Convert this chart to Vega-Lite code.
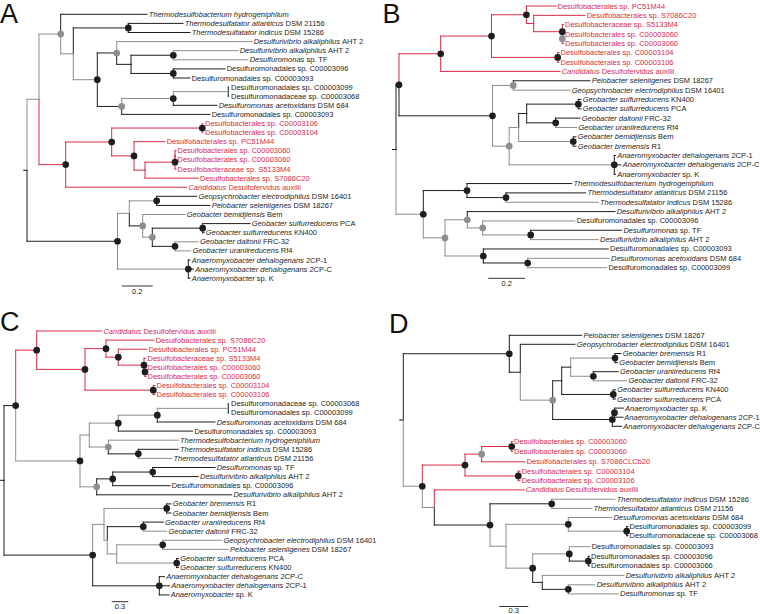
{
"$schema": "https://vega.github.io/schema/vega-lite/v6.json",
"padding": 0,
"spacing": 0,
"bounds": "flush",
"config": {"view": {"stroke": null}, "facet": {"spacing": 0}, "text": {"font": "Liberation Sans"},
  "header": {"title": null, "labels": false, "labelExpr": "''", "labelFontSize": 0, "labelPadding": 0, "titlePadding": 0, "titleFontSize": 0}},
"data": {"values": [
{"k":"br","p":"A","a":24,"b":170.3,"c":27,"d":170.3,"t":"k"},
{"k":"br","p":"A","a":27,"b":170.3,"c":39,"d":99.3,"t":"g"},
{"k":"br","p":"A","a":27,"b":170.3,"c":117.5,"d":241.25,"t":"k"},
{"k":"br","p":"A","a":39,"b":99.3,"c":60.7,"d":34.07,"t":"g"},
{"k":"br","p":"A","a":39,"b":99.3,"c":65.7,"d":164.6,"t":"r"},
{"k":"br","p":"A","a":60.7,"b":34.07,"c":147,"d":14.3,"t":"k"},
{"k":"br","p":"A","a":60.7,"b":34.07,"c":73.3,"d":53.83,"t":"g"},
{"k":"br","p":"A","a":73.3,"b":53.83,"c":128.3,"d":27.95,"t":"k"},
{"k":"br","p":"A","a":73.3,"b":53.83,"c":97.3,"d":79.71,"t":"g"},
{"k":"br","p":"A","a":128.3,"b":27.95,"c":183,"d":23.4,"t":"k"},
{"k":"br","p":"A","a":128.3,"b":27.95,"c":190,"d":32.5,"t":"k"},
{"k":"br","p":"A","a":97.3,"b":79.71,"c":116.7,"d":52.98,"t":"k"},
{"k":"br","p":"A","a":97.3,"b":79.71,"c":121.7,"d":106.44,"t":"k"},
{"k":"br","p":"A","a":116.7,"b":52.98,"c":252,"d":41.6,"t":"g"},
{"k":"br","p":"A","a":116.7,"b":52.98,"c":131,"d":64.35,"t":"k"},
{"k":"br","p":"A","a":131,"b":64.35,"c":173.3,"d":55.25,"t":"k"},
{"k":"br","p":"A","a":131,"b":64.35,"c":173.3,"d":73.45,"t":"k"},
{"k":"br","p":"A","a":173.3,"b":55.25,"c":238,"d":50.7,"t":"g"},
{"k":"br","p":"A","a":173.3,"b":55.25,"c":248,"d":59.8,"t":"g"},
{"k":"br","p":"A","a":173.3,"b":73.45,"c":225,"d":68.9,"t":"k"},
{"k":"br","p":"A","a":173.3,"b":73.45,"c":190,"d":78,"t":"k"},
{"k":"br","p":"A","a":121.7,"b":106.44,"c":173.3,"d":98.48,"t":"g"},
{"k":"br","p":"A","a":121.7,"b":106.44,"c":210,"d":114.4,"t":"k"},
{"k":"br","p":"A","a":173.3,"b":98.48,"c":228.3,"d":91.65,"t":"g"},
{"k":"br","p":"A","a":173.3,"b":98.48,"c":217,"d":105.3,"t":"k"},
{"k":"br","p":"A","a":228.3,"b":91.65,"c":228.3,"d":87.1,"t":"k"},
{"k":"br","p":"A","a":228.3,"b":91.65,"c":228.3,"d":96.2,"t":"k"},
{"k":"br","p":"A","a":65.7,"b":164.6,"c":111.7,"d":141.98,"t":"r"},
{"k":"br","p":"A","a":65.7,"b":164.6,"c":186.7,"d":187.2,"t":"r"},
{"k":"br","p":"A","a":111.7,"b":141.98,"c":202.3,"d":128.05,"t":"r"},
{"k":"br","p":"A","a":111.7,"b":141.98,"c":134,"d":155.9,"t":"r"},
{"k":"br","p":"A","a":202.3,"b":128.05,"c":202.3,"d":123.5,"t":"r"},
{"k":"br","p":"A","a":202.3,"b":128.05,"c":202.3,"d":132.6,"t":"r"},
{"k":"br","p":"A","a":134,"b":155.9,"c":165,"d":141.7,"t":"r"},
{"k":"br","p":"A","a":134,"b":155.9,"c":145,"d":170.15,"t":"r"},
{"k":"br","p":"A","a":145,"b":170.15,"c":175,"d":162.2,"t":"r"},
{"k":"br","p":"A","a":145,"b":170.15,"c":198.3,"d":178.1,"t":"r"},
{"k":"br","p":"A","a":175,"b":162.2,"c":175,"d":155.35,"t":"r"},
{"k":"br","p":"A","a":175,"b":162.2,"c":176,"d":169,"t":"r"},
{"k":"br","p":"A","a":175,"b":155.35,"c":176,"d":150.8,"t":"r"},
{"k":"br","p":"A","a":175,"b":155.35,"c":176,"d":159.9,"t":"r"},
{"k":"br","p":"A","a":117.5,"b":241.25,"c":129.3,"d":213.4,"t":"g"},
{"k":"br","p":"A","a":117.5,"b":241.25,"c":188.3,"d":269.1,"t":"g"},
{"k":"br","p":"A","a":129.3,"b":213.4,"c":156.7,"d":200.85,"t":"g"},
{"k":"br","p":"A","a":129.3,"b":213.4,"c":142.7,"d":225.9,"t":"k"},
{"k":"br","p":"A","a":156.7,"b":200.85,"c":196.7,"d":196.3,"t":"k"},
{"k":"br","p":"A","a":156.7,"b":200.85,"c":210,"d":205.4,"t":"k"},
{"k":"br","p":"A","a":142.7,"b":225.9,"c":185,"d":214.5,"t":"g"},
{"k":"br","p":"A","a":142.7,"b":225.9,"c":152.3,"d":237.25,"t":"g"},
{"k":"br","p":"A","a":152.3,"b":237.25,"c":202.7,"d":228.15,"t":"k"},
{"k":"br","p":"A","a":152.3,"b":237.25,"c":175,"d":246.35,"t":"k"},
{"k":"br","p":"A","a":202.7,"b":228.15,"c":250,"d":223.6,"t":"k"},
{"k":"br","p":"A","a":202.7,"b":228.15,"c":204,"d":232.7,"t":"k"},
{"k":"br","p":"A","a":175,"b":246.35,"c":198.3,"d":241.8,"t":"g"},
{"k":"br","p":"A","a":175,"b":246.35,"c":190.7,"d":250.9,"t":"g"},
{"k":"br","p":"A","a":188.3,"b":269.1,"c":190,"d":260,"t":"k"},
{"k":"br","p":"A","a":188.3,"b":269.1,"c":193.5,"d":269.1,"t":"k"},
{"k":"br","p":"A","a":188.3,"b":269.1,"c":190,"d":278.2,"t":"k"},
{"k":"node","p":"A","x":60.7,"y":34.07,"t":"g"},
{"k":"node","p":"A","x":128.3,"y":27.95,"t":"k"},
{"k":"node","p":"A","x":97.3,"y":79.71,"t":"k"},
{"k":"node","p":"A","x":116.7,"y":52.98,"t":"g"},
{"k":"node","p":"A","x":173.3,"y":55.25,"t":"k"},
{"k":"node","p":"A","x":173.3,"y":73.45,"t":"k"},
{"k":"node","p":"A","x":121.7,"y":106.44,"t":"g"},
{"k":"node","p":"A","x":173.3,"y":98.48,"t":"k"},
{"k":"node","p":"A","x":65.7,"y":164.6,"t":"k"},
{"k":"node","p":"A","x":111.7,"y":141.98,"t":"k"},
{"k":"node","p":"A","x":202.3,"y":128.05,"t":"k"},
{"k":"node","p":"A","x":134,"y":155.9,"t":"k"},
{"k":"node","p":"A","x":175,"y":162.2,"t":"k"},
{"k":"node","p":"A","x":117.5,"y":241.25,"t":"k"},
{"k":"node","p":"A","x":156.7,"y":200.85,"t":"k"},
{"k":"node","p":"A","x":142.7,"y":225.9,"t":"g"},
{"k":"node","p":"A","x":152.3,"y":237.25,"t":"g"},
{"k":"node","p":"A","x":202.7,"y":228.15,"t":"k"},
{"k":"node","p":"A","x":175,"y":246.35,"t":"k"},
{"k":"node","p":"A","x":188.3,"y":269.1,"t":"k"},
{"k":"lab","p":"A","x":148.7,"y":14.3,"it":"Thermodesulfobacterium hydrogeniphilum","ro":"","rx":148.7,"t":"k"},
{"k":"lab","p":"A","x":184.7,"y":23.4,"it":"Thermodesulfatator atlanticus","ro":"DSM 21156","rx":285.6,"t":"k"},
{"k":"lab","p":"A","x":191.7,"y":32.5,"it":"Thermodesulfatator indicus","ro":"DSM 15286","rx":284.2,"t":"k"},
{"k":"lab","p":"A","x":253.7,"y":41.6,"it":"Desulfurivibrio alkaliphilus","ro":"AHT 2","rx":342.05,"t":"k"},
{"k":"lab","p":"A","x":239.7,"y":50.7,"it":"Desulfurivibrio alkaliphilus","ro":"AHT 2","rx":328.05,"t":"k"},
{"k":"lab","p":"A","x":249.7,"y":59.8,"it":"Desulfuromonas","ro":"sp. TF","rx":306.4,"t":"k"},
{"k":"lab","p":"A","x":226.7,"y":68.9,"it":"","ro":"Desulfuromonadales sp. C00003096","rx":226.7,"t":"k"},
{"k":"lab","p":"A","x":191.7,"y":78,"it":"","ro":"Desulfuromonadales sp. C00003093","rx":191.7,"t":"k"},
{"k":"lab","p":"A","x":231,"y":87.1,"it":"","ro":"Desulfuromonadales sp. C00003099","rx":231,"t":"k"},
{"k":"lab","p":"A","x":231,"y":96.2,"it":"","ro":"Desulfuromonadaceae sp. C00003068","rx":231,"t":"k"},
{"k":"lab","p":"A","x":218.7,"y":105.3,"it":"Desulfuromonas acetoxidans","ro":"DSM 684","rx":317.5,"t":"k"},
{"k":"lab","p":"A","x":211.7,"y":114.4,"it":"","ro":"Desulfuromonadales sp. C00003093","rx":211.7,"t":"k"},
{"k":"lab","p":"A","x":205,"y":123.5,"it":"","ro":"Desulfobacterales sp. C00003106","rx":205,"t":"r"},
{"k":"lab","p":"A","x":205,"y":132.6,"it":"","ro":"Desulfobacterales sp. C00003104","rx":205,"t":"r"},
{"k":"lab","p":"A","x":166.7,"y":141.7,"it":"","ro":"Desulfobacterales sp. PC51M44","rx":166.7,"t":"r"},
{"k":"lab","p":"A","x":177.5,"y":150.8,"it":"","ro":"Desulfobacterales sp. C00003060","rx":177.5,"t":"r"},
{"k":"lab","p":"A","x":177.5,"y":159.9,"it":"","ro":"Desulfobacterales sp. C00003060","rx":177.5,"t":"r"},
{"k":"lab","p":"A","x":177.5,"y":169,"it":"","ro":"Desulfobacteraceae sp. S5133M4","rx":177.5,"t":"r"},
{"k":"lab","p":"A","x":200,"y":178.1,"it":"","ro":"Desulfobacterales sp. S7086C20","rx":200,"t":"r"},
{"k":"lab","p":"A","x":188.4,"y":187.2,"it":"Candidatus","ro":"Desulfofervidus auxilii","rx":228.4,"t":"r"},
{"k":"lab","p":"A","x":198.4,"y":196.3,"it":"Geopsychrobacter electrodiphilus","ro":"DSM 16401","rx":311.8,"t":"k"},
{"k":"lab","p":"A","x":211.7,"y":205.4,"it":"Pelobacter seleniigenes","ro":"DSM 18267","rx":293.4,"t":"k"},
{"k":"lab","p":"A","x":186.7,"y":214.5,"it":"Geobacter bemidjiensis","ro":"Bem","rx":267.1,"t":"k"},
{"k":"lab","p":"A","x":251.7,"y":223.6,"it":"Geobacter sulfurreducens","ro":"PCA","rx":340.1,"t":"k"},
{"k":"lab","p":"A","x":205.7,"y":232.7,"it":"Geobacter sulfurreducens","ro":"KN400","rx":294.1,"t":"k"},
{"k":"lab","p":"A","x":200,"y":241.8,"it":"Geobacter daltonii","ro":"FRC-32","rx":262.9,"t":"k"},
{"k":"lab","p":"A","x":192.4,"y":250.9,"it":"Geobacter uraniireducens","ro":"Rf4","rx":280.8,"t":"k"},
{"k":"lab","p":"A","x":191.7,"y":260,"it":"Anaeromyxobacter dehalogenans","ro":"2CP-1","rx":305.9,"t":"k"},
{"k":"lab","p":"A","x":195.2,"y":269.1,"it":"Anaeromyxobacter dehalogenans","ro":"2CP-C","rx":309.4,"t":"k"},
{"k":"lab","p":"A","x":191.7,"y":278.2,"it":"Anaeromyxobacter","ro":"sp. K","rx":256.7,"t":"k"},
{"k":"bar","p":"A","a":121.7,"c":152.7,"b":286,"m":137.2,"ly":291.5,"s":"0.2"},
{"k":"let","p":"A","x":0,"y":22.5,"s":"A"},

{"k":"br","p":"B","a":12.5,"b":149.5,"c":16,"d":149.5,"t":"k"},
{"k":"br","p":"B","a":16,"b":149.5,"c":19,"d":84.78,"t":"k"},
{"k":"br","p":"B","a":16,"b":149.5,"c":43.3,"d":214.23,"t":"g"},
{"k":"br","p":"B","a":19,"b":84.78,"c":60.7,"d":53.75,"t":"r"},
{"k":"br","p":"B","a":19,"b":84.78,"c":112.5,"d":115.81,"t":"k"},
{"k":"br","p":"B","a":60.7,"b":53.75,"c":111.5,"d":36.08,"t":"r"},
{"k":"br","p":"B","a":60.7,"b":53.75,"c":180,"d":71.42,"t":"r"},
{"k":"br","p":"B","a":111.5,"b":36.08,"c":146.4,"d":14.77,"t":"r"},
{"k":"br","p":"B","a":111.5,"b":36.08,"c":177.7,"d":57.4,"t":"r"},
{"k":"br","p":"B","a":146.4,"b":14.77,"c":176,"d":6,"t":"r"},
{"k":"br","p":"B","a":146.4,"b":14.77,"c":153.7,"d":23.53,"t":"r"},
{"k":"br","p":"B","a":153.7,"b":23.53,"c":205,"d":15.35,"t":"r"},
{"k":"br","p":"B","a":153.7,"b":23.53,"c":182.3,"d":31.7,"t":"r"},
{"k":"br","p":"B","a":182.3,"b":31.7,"c":183.5,"d":24.69,"t":"r"},
{"k":"br","p":"B","a":182.3,"b":31.7,"c":182.3,"d":38.71,"t":"r"},
{"k":"br","p":"B","a":182.3,"b":38.71,"c":183.5,"d":34.04,"t":"r"},
{"k":"br","p":"B","a":182.3,"b":38.71,"c":183.5,"d":43.38,"t":"r"},
{"k":"br","p":"B","a":177.7,"b":57.4,"c":179,"d":52.73,"t":"r"},
{"k":"br","p":"B","a":177.7,"b":57.4,"c":179,"d":62.07,"t":"r"},
{"k":"br","p":"B","a":112.5,"b":115.81,"c":133.3,"d":85.44,"t":"g"},
{"k":"br","p":"B","a":112.5,"b":115.81,"c":129.2,"d":146.18,"t":"g"},
{"k":"br","p":"B","a":133.3,"b":85.44,"c":210,"d":80.76,"t":"k"},
{"k":"br","p":"B","a":133.3,"b":85.44,"c":190,"d":90.11,"t":"g"},
{"k":"br","p":"B","a":129.2,"b":146.18,"c":138.7,"d":127.49,"t":"g"},
{"k":"br","p":"B","a":129.2,"b":146.18,"c":234.3,"d":164.87,"t":"g"},
{"k":"br","p":"B","a":138.7,"b":127.49,"c":146.7,"d":113.47,"t":"k"},
{"k":"br","p":"B","a":138.7,"b":127.49,"c":193.3,"d":141.5,"t":"g"},
{"k":"br","p":"B","a":146.7,"b":113.47,"c":198.3,"d":104.13,"t":"k"},
{"k":"br","p":"B","a":146.7,"b":113.47,"c":175.7,"d":122.82,"t":"k"},
{"k":"br","p":"B","a":198.3,"b":104.13,"c":201,"d":99.45,"t":"k"},
{"k":"br","p":"B","a":198.3,"b":104.13,"c":201,"d":108.8,"t":"k"},
{"k":"br","p":"B","a":175.7,"b":122.82,"c":200,"d":118.14,"t":"k"},
{"k":"br","p":"B","a":175.7,"b":122.82,"c":196.7,"d":127.49,"t":"g"},
{"k":"br","p":"B","a":193.3,"b":141.5,"c":196,"d":136.83,"t":"k"},
{"k":"br","p":"B","a":193.3,"b":141.5,"c":196,"d":146.18,"t":"k"},
{"k":"br","p":"B","a":234.3,"b":164.87,"c":235.5,"d":155.52,"t":"k"},
{"k":"br","p":"B","a":234.3,"b":164.87,"c":241,"d":164.87,"t":"k"},
{"k":"br","p":"B","a":234.3,"b":164.87,"c":235.5,"d":174.21,"t":"k"},
{"k":"br","p":"B","a":43.3,"b":214.23,"c":87,"d":190.57,"t":"k"},
{"k":"br","p":"B","a":43.3,"b":214.23,"c":65,"d":237.88,"t":"g"},
{"k":"br","p":"B","a":87,"b":190.57,"c":191.7,"d":183.56,"t":"k"},
{"k":"br","p":"B","a":87,"b":190.57,"c":126,"d":197.58,"t":"k"},
{"k":"br","p":"B","a":126,"b":197.58,"c":205.7,"d":192.9,"t":"k"},
{"k":"br","p":"B","a":126,"b":197.58,"c":218.3,"d":202.25,"t":"g"},
{"k":"br","p":"B","a":65,"b":237.88,"c":87.3,"d":219.77,"t":"g"},
{"k":"br","p":"B","a":65,"b":237.88,"c":103.3,"d":255.98,"t":"g"},
{"k":"br","p":"B","a":87.3,"b":219.77,"c":235,"d":211.59,"t":"k"},
{"k":"br","p":"B","a":87.3,"b":219.77,"c":102.7,"d":227.95,"t":"g"},
{"k":"br","p":"B","a":102.7,"b":227.95,"c":195,"d":220.94,"t":"g"},
{"k":"br","p":"B","a":102.7,"b":227.95,"c":150.7,"d":234.96,"t":"g"},
{"k":"br","p":"B","a":150.7,"b":234.96,"c":241.7,"d":230.28,"t":"k"},
{"k":"br","p":"B","a":150.7,"b":234.96,"c":218.3,"d":239.63,"t":"g"},
{"k":"br","p":"B","a":103.3,"b":255.98,"c":228.3,"d":248.97,"t":"k"},
{"k":"br","p":"B","a":103.3,"b":255.98,"c":147.7,"d":262.99,"t":"k"},
{"k":"br","p":"B","a":147.7,"b":262.99,"c":229.3,"d":258.32,"t":"g"},
{"k":"br","p":"B","a":147.7,"b":262.99,"c":226.7,"d":267.66,"t":"g"},
{"k":"node","p":"B","x":19,"y":84.78,"t":"k"},
{"k":"node","p":"B","x":60.7,"y":53.75,"t":"k"},
{"k":"node","p":"B","x":111.5,"y":36.08,"t":"k"},
{"k":"node","p":"B","x":146.4,"y":14.77,"t":"k"},
{"k":"node","p":"B","x":182.3,"y":31.7,"t":"k"},
{"k":"node","p":"B","x":182.3,"y":38.71,"t":"g"},
{"k":"node","p":"B","x":177.7,"y":57.4,"t":"k"},
{"k":"node","p":"B","x":112.5,"y":115.81,"t":"k"},
{"k":"node","p":"B","x":133.3,"y":85.44,"t":"g"},
{"k":"node","p":"B","x":129.2,"y":146.18,"t":"g"},
{"k":"node","p":"B","x":198.3,"y":104.13,"t":"k"},
{"k":"node","p":"B","x":175.7,"y":122.82,"t":"k"},
{"k":"node","p":"B","x":193.3,"y":141.5,"t":"k"},
{"k":"node","p":"B","x":234.3,"y":164.87,"t":"k"},
{"k":"node","p":"B","x":43.3,"y":214.23,"t":"k"},
{"k":"node","p":"B","x":87,"y":190.57,"t":"k"},
{"k":"node","p":"B","x":126,"y":197.58,"t":"k"},
{"k":"node","p":"B","x":65,"y":237.88,"t":"g"},
{"k":"node","p":"B","x":87.3,"y":219.77,"t":"g"},
{"k":"node","p":"B","x":102.7,"y":227.95,"t":"g"},
{"k":"node","p":"B","x":150.7,"y":234.96,"t":"k"},
{"k":"node","p":"B","x":103.3,"y":255.98,"t":"k"},
{"k":"node","p":"B","x":147.7,"y":262.99,"t":"k"},
{"k":"lab","p":"B","x":177.5,"y":6,"it":"","ro":"Desulfobacterales sp. PC51M44","rx":177.5,"t":"r"},
{"k":"lab","p":"B","x":206.7,"y":15.35,"it":"","ro":"Desulfobacterales sp. S7086C20","rx":206.7,"t":"r"},
{"k":"lab","p":"B","x":185,"y":24.69,"it":"","ro":"Desulfobacteraceae sp. S5133M4","rx":185,"t":"r"},
{"k":"lab","p":"B","x":185,"y":34.04,"it":"","ro":"Desulfobacterales sp. C00003060","rx":185,"t":"r"},
{"k":"lab","p":"B","x":185,"y":43.38,"it":"","ro":"Desulfobacterales sp. C00003060","rx":185,"t":"r"},
{"k":"lab","p":"B","x":180.5,"y":52.73,"it":"","ro":"Desulfobacterales sp. C00003104","rx":180.5,"t":"r"},
{"k":"lab","p":"B","x":180.5,"y":62.07,"it":"","ro":"Desulfobacterales sp. C00003106","rx":180.5,"t":"r"},
{"k":"lab","p":"B","x":181.7,"y":71.42,"it":"Candidatus","ro":"Desulfofervidus auxilii","rx":221.7,"t":"r"},
{"k":"lab","p":"B","x":211.7,"y":80.76,"it":"Pelobacter seleniigenes","ro":"DSM 18267","rx":293.4,"t":"k"},
{"k":"lab","p":"B","x":191.7,"y":90.11,"it":"Geopsychrobacter electrodiphilus","ro":"DSM 16401","rx":305.1,"t":"k"},
{"k":"lab","p":"B","x":202.7,"y":99.45,"it":"Geobacter sulfurreducens","ro":"KN400","rx":291.1,"t":"k"},
{"k":"lab","p":"B","x":202.7,"y":108.8,"it":"Geobacter sulfurreducens","ro":"PCA","rx":291.1,"t":"k"},
{"k":"lab","p":"B","x":201.7,"y":118.14,"it":"Geobacter daltonii","ro":"FRC-32","rx":264.6,"t":"k"},
{"k":"lab","p":"B","x":198.4,"y":127.49,"it":"Geobacter uraniireducens","ro":"Rf4","rx":286.8,"t":"k"},
{"k":"lab","p":"B","x":197.7,"y":136.83,"it":"Geobacter bemidjiensis","ro":"Bem","rx":278.1,"t":"k"},
{"k":"lab","p":"B","x":197.7,"y":146.18,"it":"Geobacter bremensis","ro":"R1","rx":271.5,"t":"k"},
{"k":"lab","p":"B","x":237.2,"y":155.52,"it":"Anaeromyxobacter dehalogenans","ro":"2CP-1","rx":351.4,"t":"k"},
{"k":"lab","p":"B","x":242.7,"y":164.87,"it":"Anaeromyxobacter dehalogenans","ro":"2CP-C","rx":356.9,"t":"k"},
{"k":"lab","p":"B","x":237.2,"y":174.21,"it":"Anaeromyxobacter","ro":"sp. K","rx":302.2,"t":"k"},
{"k":"lab","p":"B","x":193.4,"y":183.56,"it":"Thermodesulfobacterium hydrogeniphilum","ro":"","rx":193.4,"t":"k"},
{"k":"lab","p":"B","x":207.4,"y":192.9,"it":"Thermodesulfatator atlanticus","ro":"DSM 21156","rx":308.3,"t":"k"},
{"k":"lab","p":"B","x":220,"y":202.25,"it":"Thermodesulfatator indicus","ro":"DSM 15286","rx":312.5,"t":"k"},
{"k":"lab","p":"B","x":236.7,"y":211.59,"it":"Desulfurivibrio alkaliphilus","ro":"AHT 2","rx":325.05,"t":"k"},
{"k":"lab","p":"B","x":196.7,"y":220.94,"it":"","ro":"Desulfuromonadales sp. C00003096","rx":196.7,"t":"k"},
{"k":"lab","p":"B","x":243.4,"y":230.28,"it":"Desulfuromonas","ro":"sp. TF","rx":300.1,"t":"k"},
{"k":"lab","p":"B","x":220,"y":239.63,"it":"Desulfurivibrio alkaliphilus","ro":"AHT 2","rx":308.35,"t":"k"},
{"k":"lab","p":"B","x":230,"y":248.97,"it":"","ro":"Desulfuromonadales sp. C00003093","rx":230,"t":"k"},
{"k":"lab","p":"B","x":231,"y":258.32,"it":"Desulfuromonas acetoxidans","ro":"DSM 684","rx":329.8,"t":"k"},
{"k":"lab","p":"B","x":228.4,"y":267.66,"it":"","ro":"Desulfuromonadales sp. C00003099","rx":228.4,"t":"k"},
{"k":"bar","p":"B","a":108.3,"c":145,"b":278.3,"m":126.7,"ly":283.8,"s":"0.2"},
{"k":"let","p":"B","x":2.5,"y":22.5,"s":"B"},

{"k":"br","p":"C","a":1,"b":173.34,"c":4,"d":173.34,"t":"k"},
{"k":"br","p":"C","a":4,"b":173.34,"c":15.7,"d":98.58,"t":"k"},
{"k":"br","p":"C","a":4,"b":173.34,"c":92.7,"d":248.09,"t":"k"},
{"k":"br","p":"C","a":15.7,"b":98.58,"c":36.7,"d":43.2,"t":"r"},
{"k":"br","p":"C","a":15.7,"b":98.58,"c":80,"d":153.96,"t":"g"},
{"k":"br","p":"C","a":36.7,"b":43.2,"c":101.7,"d":24,"t":"r"},
{"k":"br","p":"C","a":36.7,"b":43.2,"c":85,"d":62.39,"t":"r"},
{"k":"br","p":"C","a":85,"b":62.39,"c":106,"d":41.63,"t":"r"},
{"k":"br","p":"C","a":85,"b":62.39,"c":153.3,"d":83.15,"t":"r"},
{"k":"br","p":"C","a":106,"b":41.63,"c":154,"d":33.1,"t":"r"},
{"k":"br","p":"C","a":106,"b":41.63,"c":118.3,"d":50.16,"t":"r"},
{"k":"br","p":"C","a":118.3,"b":50.16,"c":146.7,"d":42.2,"t":"r"},
{"k":"br","p":"C","a":118.3,"b":50.16,"c":144,"d":58.13,"t":"r"},
{"k":"br","p":"C","a":144,"b":58.13,"c":145.5,"d":51.3,"t":"r"},
{"k":"br","p":"C","a":144,"b":58.13,"c":145,"d":64.95,"t":"r"},
{"k":"br","p":"C","a":145,"b":64.95,"c":146,"d":60.4,"t":"r"},
{"k":"br","p":"C","a":145,"b":64.95,"c":146,"d":69.5,"t":"r"},
{"k":"br","p":"C","a":153.3,"b":83.15,"c":155,"d":78.6,"t":"r"},
{"k":"br","p":"C","a":153.3,"b":83.15,"c":155,"d":87.7,"t":"r"},
{"k":"br","p":"C","a":80,"b":153.96,"c":89.3,"d":128.08,"t":"g"},
{"k":"br","p":"C","a":80,"b":153.96,"c":96.7,"d":179.84,"t":"g"},
{"k":"br","p":"C","a":89.3,"b":128.08,"c":118.3,"d":116.14,"t":"g"},
{"k":"br","p":"C","a":89.3,"b":128.08,"c":108.3,"d":140.03,"t":"g"},
{"k":"br","p":"C","a":118.3,"b":116.14,"c":157.3,"d":108.18,"t":"g"},
{"k":"br","p":"C","a":118.3,"b":116.14,"c":192.7,"d":124.1,"t":"k"},
{"k":"br","p":"C","a":157.3,"b":108.18,"c":228.3,"d":101.35,"t":"g"},
{"k":"br","p":"C","a":157.3,"b":108.18,"c":215,"d":115,"t":"k"},
{"k":"br","p":"C","a":228.3,"b":101.35,"c":228.3,"d":96.8,"t":"k"},
{"k":"br","p":"C","a":228.3,"b":101.35,"c":228.3,"d":105.9,"t":"k"},
{"k":"br","p":"C","a":108.3,"b":140.03,"c":178.3,"d":133.2,"t":"g"},
{"k":"br","p":"C","a":108.3,"b":140.03,"c":138.3,"d":146.85,"t":"k"},
{"k":"br","p":"C","a":138.3,"b":146.85,"c":178.3,"d":142.3,"t":"k"},
{"k":"br","p":"C","a":138.3,"b":146.85,"c":171.7,"d":151.4,"t":"g"},
{"k":"br","p":"C","a":96.7,"b":179.84,"c":112.7,"d":171.88,"t":"k"},
{"k":"br","p":"C","a":96.7,"b":179.84,"c":231.7,"d":187.8,"t":"k"},
{"k":"br","p":"C","a":112.7,"b":171.88,"c":152.7,"d":165.05,"t":"k"},
{"k":"br","p":"C","a":112.7,"b":171.88,"c":170,"d":178.7,"t":"k"},
{"k":"br","p":"C","a":152.7,"b":165.05,"c":215,"d":160.5,"t":"k"},
{"k":"br","p":"C","a":152.7,"b":165.05,"c":198.3,"d":169.6,"t":"k"},
{"k":"br","p":"C","a":92.7,"b":248.09,"c":104,"d":217.38,"t":"g"},
{"k":"br","p":"C","a":92.7,"b":248.09,"c":159.3,"d":278.8,"t":"k"},
{"k":"br","p":"C","a":104,"b":217.38,"c":166.7,"d":201.45,"t":"g"},
{"k":"br","p":"C","a":104,"b":217.38,"c":107.3,"d":233.3,"t":"g"},
{"k":"br","p":"C","a":166.7,"b":201.45,"c":171,"d":196.9,"t":"k"},
{"k":"br","p":"C","a":166.7,"b":201.45,"c":171,"d":206,"t":"k"},
{"k":"br","p":"C","a":107.3,"b":233.3,"c":143.3,"d":219.65,"t":"k"},
{"k":"br","p":"C","a":107.3,"b":233.3,"c":116.7,"d":246.95,"t":"g"},
{"k":"br","p":"C","a":143.3,"b":219.65,"c":163.3,"d":215.1,"t":"k"},
{"k":"br","p":"C","a":143.3,"b":219.65,"c":166.7,"d":224.2,"t":"g"},
{"k":"br","p":"C","a":116.7,"b":246.95,"c":162.7,"d":237.85,"t":"g"},
{"k":"br","p":"C","a":116.7,"b":246.95,"c":176.7,"d":256.05,"t":"g"},
{"k":"br","p":"C","a":162.7,"b":237.85,"c":221.7,"d":233.3,"t":"g"},
{"k":"br","p":"C","a":162.7,"b":237.85,"c":228.3,"d":242.4,"t":"g"},
{"k":"br","p":"C","a":176.7,"b":256.05,"c":178.5,"d":251.5,"t":"k"},
{"k":"br","p":"C","a":176.7,"b":256.05,"c":178.5,"d":260.6,"t":"k"},
{"k":"br","p":"C","a":159.3,"b":278.8,"c":164.5,"d":269.7,"t":"k"},
{"k":"br","p":"C","a":159.3,"b":278.8,"c":169.5,"d":278.8,"t":"k"},
{"k":"br","p":"C","a":159.3,"b":278.8,"c":169,"d":287.9,"t":"k"},
{"k":"node","p":"C","x":15.7,"y":98.58,"t":"k"},
{"k":"node","p":"C","x":36.7,"y":43.2,"t":"k"},
{"k":"node","p":"C","x":85,"y":62.39,"t":"k"},
{"k":"node","p":"C","x":106,"y":41.63,"t":"k"},
{"k":"node","p":"C","x":118.3,"y":50.16,"t":"k"},
{"k":"node","p":"C","x":144,"y":58.13,"t":"k"},
{"k":"node","p":"C","x":145,"y":64.95,"t":"k"},
{"k":"node","p":"C","x":153.3,"y":83.15,"t":"k"},
{"k":"node","p":"C","x":80,"y":153.96,"t":"k"},
{"k":"node","p":"C","x":118.3,"y":116.14,"t":"k"},
{"k":"node","p":"C","x":157.3,"y":108.18,"t":"k"},
{"k":"node","p":"C","x":108.3,"y":140.03,"t":"g"},
{"k":"node","p":"C","x":138.3,"y":146.85,"t":"k"},
{"k":"node","p":"C","x":96.7,"y":179.84,"t":"g"},
{"k":"node","p":"C","x":112.7,"y":171.88,"t":"k"},
{"k":"node","p":"C","x":152.7,"y":165.05,"t":"k"},
{"k":"node","p":"C","x":92.7,"y":248.09,"t":"k"},
{"k":"node","p":"C","x":166.7,"y":201.45,"t":"k"},
{"k":"node","p":"C","x":143.3,"y":219.65,"t":"k"},
{"k":"node","p":"C","x":162.7,"y":237.85,"t":"k"},
{"k":"node","p":"C","x":176.7,"y":256.05,"t":"k"},
{"k":"node","p":"C","x":159.3,"y":278.8,"t":"k"},
{"k":"lab","p":"C","x":103.4,"y":24,"it":"Candidatus","ro":"Desulfofervidus auxilii","rx":143.4,"t":"r"},
{"k":"lab","p":"C","x":155.7,"y":33.1,"it":"","ro":"Desulfobacterales sp. S7086C20","rx":155.7,"t":"r"},
{"k":"lab","p":"C","x":148.4,"y":42.2,"it":"","ro":"Desulfobacterales sp. PC51M44","rx":148.4,"t":"r"},
{"k":"lab","p":"C","x":147.5,"y":51.3,"it":"","ro":"Desulfobacteraceae sp. S5133M4","rx":147.5,"t":"r"},
{"k":"lab","p":"C","x":147.5,"y":60.4,"it":"","ro":"Desulfobacterales sp. C00003060","rx":147.5,"t":"r"},
{"k":"lab","p":"C","x":147.5,"y":69.5,"it":"","ro":"Desulfobacterales sp. C00003060","rx":147.5,"t":"r"},
{"k":"lab","p":"C","x":156.5,"y":78.6,"it":"","ro":"Desulfobacterales sp. C00003104","rx":156.5,"t":"r"},
{"k":"lab","p":"C","x":156.5,"y":87.7,"it":"","ro":"Desulfobacterales sp. C00003106","rx":156.5,"t":"r"},
{"k":"lab","p":"C","x":231,"y":96.8,"it":"","ro":"Desulfuromonadaceae sp. C00003068","rx":231,"t":"k"},
{"k":"lab","p":"C","x":231,"y":105.9,"it":"","ro":"Desulfuromonadales sp. C00003099","rx":231,"t":"k"},
{"k":"lab","p":"C","x":216.7,"y":115,"it":"Desulfuromonas acetoxidans","ro":"DSM 684","rx":315.5,"t":"k"},
{"k":"lab","p":"C","x":194.4,"y":124.1,"it":"","ro":"Desulfuromonadales sp. C00003093","rx":194.4,"t":"k"},
{"k":"lab","p":"C","x":180,"y":133.2,"it":"Thermodesulfobacterium hydrogeniphilum","ro":"","rx":180,"t":"k"},
{"k":"lab","p":"C","x":180,"y":142.3,"it":"Thermodesulfatator indicus","ro":"DSM 15286","rx":272.5,"t":"k"},
{"k":"lab","p":"C","x":173.4,"y":151.4,"it":"Thermodesulfatator atlanticus","ro":"DSM 21156","rx":274.3,"t":"k"},
{"k":"lab","p":"C","x":216.7,"y":160.5,"it":"Desulfuromonas","ro":"sp. TF","rx":273.4,"t":"k"},
{"k":"lab","p":"C","x":200,"y":169.6,"it":"Desulfurivibrio alkaliphilus","ro":"AHT 2","rx":288.35,"t":"k"},
{"k":"lab","p":"C","x":171.7,"y":178.7,"it":"","ro":"Desulfuromonadales sp. C00003096","rx":171.7,"t":"k"},
{"k":"lab","p":"C","x":233.4,"y":187.8,"it":"Desulfurivibrio alkaliphilus","ro":"AHT 2","rx":321.75,"t":"k"},
{"k":"lab","p":"C","x":172.7,"y":196.9,"it":"Geobacter bremensis","ro":"R1","rx":246.5,"t":"k"},
{"k":"lab","p":"C","x":172.7,"y":206,"it":"Geobacter bemidjiensis","ro":"Bem","rx":253.1,"t":"k"},
{"k":"lab","p":"C","x":165,"y":215.1,"it":"Geobacter uraniireducens","ro":"Rf4","rx":253.4,"t":"k"},
{"k":"lab","p":"C","x":168.4,"y":224.2,"it":"Geobacter daltonii","ro":"FRC-32","rx":231.3,"t":"k"},
{"k":"lab","p":"C","x":223.4,"y":233.3,"it":"Geopsychrobacter electrodiphilus","ro":"DSM 16401","rx":336.8,"t":"k"},
{"k":"lab","p":"C","x":230,"y":242.4,"it":"Pelobacter seleniigenes","ro":"DSM 18267","rx":311.7,"t":"k"},
{"k":"lab","p":"C","x":180.2,"y":251.5,"it":"Geobacter sulfurreducens","ro":"PCA","rx":268.6,"t":"k"},
{"k":"lab","p":"C","x":180.2,"y":260.6,"it":"Geobacter sulfurreducens","ro":"KN400","rx":268.6,"t":"k"},
{"k":"lab","p":"C","x":166.2,"y":269.7,"it":"Anaeromyxobacter dehalogenans","ro":"2CP-C","rx":280.4,"t":"k"},
{"k":"lab","p":"C","x":171.2,"y":278.8,"it":"Anaeromyxobacter dehalogenans","ro":"2CP-1","rx":285.4,"t":"k"},
{"k":"lab","p":"C","x":170.7,"y":287.9,"it":"Anaeromyxobacter","ro":"sp. K","rx":235.7,"t":"k"},
{"k":"bar","p":"C","a":111.7,"c":128.3,"b":294.7,"m":120,"ly":300.2,"s":"0.3"},
{"k":"let","p":"C","x":0,"y":24,"s":"C"},

{"k":"br","p":"D","a":20,"b":113.01,"c":23.3,"d":113.01,"t":"k"},
{"k":"br","p":"D","a":23.3,"b":113.01,"c":129.3,"d":46.76,"t":"k"},
{"k":"br","p":"D","a":23.3,"b":113.01,"c":42.3,"d":179.26,"t":"g"},
{"k":"br","p":"D","a":129.3,"b":46.76,"c":201.7,"d":28.3,"t":"k"},
{"k":"br","p":"D","a":129.3,"b":46.76,"c":140.3,"d":65.22,"t":"k"},
{"k":"br","p":"D","a":140.3,"b":65.22,"c":195,"d":37.3,"t":"k"},
{"k":"br","p":"D","a":140.3,"b":65.22,"c":172.7,"d":93.14,"t":"g"},
{"k":"br","p":"D","a":172.7,"b":93.14,"c":181.7,"d":73.8,"t":"k"},
{"k":"br","p":"D","a":172.7,"b":93.14,"c":232.3,"d":112.48,"t":"k"},
{"k":"br","p":"D","a":181.7,"b":73.8,"c":190.7,"d":60.15,"t":"k"},
{"k":"br","p":"D","a":181.7,"b":73.8,"c":233.3,"d":87.45,"t":"k"},
{"k":"br","p":"D","a":190.7,"b":60.15,"c":235,"d":51.05,"t":"g"},
{"k":"br","p":"D","a":190.7,"b":60.15,"c":213.3,"d":69.25,"t":"g"},
{"k":"br","p":"D","a":235,"b":51.05,"c":241,"d":46.5,"t":"k"},
{"k":"br","p":"D","a":235,"b":51.05,"c":237.5,"d":55.6,"t":"k"},
{"k":"br","p":"D","a":213.3,"b":69.25,"c":238.3,"d":64.7,"t":"k"},
{"k":"br","p":"D","a":213.3,"b":69.25,"c":246.7,"d":73.8,"t":"g"},
{"k":"br","p":"D","a":233.3,"b":87.45,"c":235.5,"d":82.9,"t":"k"},
{"k":"br","p":"D","a":233.3,"b":87.45,"c":235.5,"d":92,"t":"k"},
{"k":"br","p":"D","a":232.3,"b":112.48,"c":234.5,"d":105.65,"t":"k"},
{"k":"br","p":"D","a":232.3,"b":112.48,"c":241.7,"d":119.3,"t":"k"},
{"k":"br","p":"D","a":234.5,"b":105.65,"c":243.5,"d":101.1,"t":"k"},
{"k":"br","p":"D","a":234.5,"b":105.65,"c":243,"d":110.2,"t":"k"},
{"k":"br","p":"D","a":42.3,"b":179.26,"c":85,"d":158.05,"t":"r"},
{"k":"br","p":"D","a":42.3,"b":179.26,"c":54.3,"d":200.46,"t":"g"},
{"k":"br","p":"D","a":85,"b":158.05,"c":101.7,"d":147.15,"t":"r"},
{"k":"br","p":"D","a":85,"b":158.05,"c":138.3,"d":168.95,"t":"r"},
{"k":"br","p":"D","a":101.7,"b":147.15,"c":131.7,"d":139.5,"t":"r"},
{"k":"br","p":"D","a":101.7,"b":147.15,"c":145,"d":154.8,"t":"r"},
{"k":"br","p":"D","a":131.7,"b":139.5,"c":132.5,"d":134.5,"t":"r"},
{"k":"br","p":"D","a":131.7,"b":139.5,"c":132.5,"d":144.5,"t":"r"},
{"k":"br","p":"D","a":138.3,"b":168.95,"c":140,"d":164.2,"t":"r"},
{"k":"br","p":"D","a":138.3,"b":168.95,"c":140,"d":173.7,"t":"r"},
{"k":"br","p":"D","a":54.3,"b":200.46,"c":144,"d":182.9,"t":"r"},
{"k":"br","p":"D","a":54.3,"b":200.46,"c":110,"d":218.02,"t":"k"},
{"k":"br","p":"D","a":110,"b":218.02,"c":171.7,"d":196.8,"t":"k"},
{"k":"br","p":"D","a":110,"b":218.02,"c":126,"d":239.24,"t":"g"},
{"k":"br","p":"D","a":171.7,"b":196.8,"c":235,"d":192.2,"t":"g"},
{"k":"br","p":"D","a":171.7,"b":196.8,"c":211.7,"d":201.4,"t":"g"},
{"k":"br","p":"D","a":126,"b":239.24,"c":188.3,"d":217.33,"t":"g"},
{"k":"br","p":"D","a":126,"b":239.24,"c":152.7,"d":261.14,"t":"g"},
{"k":"br","p":"D","a":188.3,"b":217.33,"c":231.7,"d":210.5,"t":"g"},
{"k":"br","p":"D","a":188.3,"b":217.33,"c":246.7,"d":224.15,"t":"g"},
{"k":"br","p":"D","a":246.7,"b":224.15,"c":248,"d":219.6,"t":"k"},
{"k":"br","p":"D","a":246.7,"b":224.15,"c":248,"d":228.7,"t":"k"},
{"k":"br","p":"D","a":152.7,"b":261.14,"c":189.3,"d":246.9,"t":"g"},
{"k":"br","p":"D","a":152.7,"b":261.14,"c":162.3,"d":275.38,"t":"k"},
{"k":"br","p":"D","a":189.3,"b":246.9,"c":210,"d":239.7,"t":"g"},
{"k":"br","p":"D","a":189.3,"b":246.9,"c":208.3,"d":254.1,"t":"k"},
{"k":"br","p":"D","a":208.3,"b":254.1,"c":209.5,"d":249.4,"t":"k"},
{"k":"br","p":"D","a":208.3,"b":254.1,"c":209.5,"d":258.8,"t":"k"},
{"k":"br","p":"D","a":162.3,"b":275.38,"c":244,"d":268.4,"t":"g"},
{"k":"br","p":"D","a":162.3,"b":275.38,"c":188.3,"d":282.35,"t":"k"},
{"k":"br","p":"D","a":188.3,"b":282.35,"c":215,"d":277.8,"t":"g"},
{"k":"br","p":"D","a":188.3,"b":282.35,"c":238.3,"d":286.9,"t":"g"},
{"k":"node","p":"D","x":129.3,"y":46.76,"t":"k"},
{"k":"node","p":"D","x":172.7,"y":93.14,"t":"g"},
{"k":"node","p":"D","x":235,"y":51.05,"t":"k"},
{"k":"node","p":"D","x":213.3,"y":69.25,"t":"k"},
{"k":"node","p":"D","x":233.3,"y":87.45,"t":"k"},
{"k":"node","p":"D","x":232.3,"y":112.48,"t":"k"},
{"k":"node","p":"D","x":234.5,"y":105.65,"t":"k"},
{"k":"node","p":"D","x":42.3,"y":179.26,"t":"k"},
{"k":"node","p":"D","x":85,"y":158.05,"t":"k"},
{"k":"node","p":"D","x":101.7,"y":147.15,"t":"g"},
{"k":"node","p":"D","x":131.7,"y":139.5,"t":"k"},
{"k":"node","p":"D","x":138.3,"y":168.95,"t":"k"},
{"k":"node","p":"D","x":110,"y":218.02,"t":"k"},
{"k":"node","p":"D","x":171.7,"y":196.8,"t":"k"},
{"k":"node","p":"D","x":188.3,"y":217.33,"t":"k"},
{"k":"node","p":"D","x":246.7,"y":224.15,"t":"k"},
{"k":"node","p":"D","x":152.7,"y":261.14,"t":"k"},
{"k":"node","p":"D","x":189.3,"y":246.9,"t":"k"},
{"k":"node","p":"D","x":208.3,"y":254.1,"t":"k"},
{"k":"node","p":"D","x":188.3,"y":282.35,"t":"k"},
{"k":"lab","p":"D","x":203.4,"y":28.3,"it":"Pelobacter seleniigenes","ro":"DSM 18267","rx":285.1,"t":"k"},
{"k":"lab","p":"D","x":196.7,"y":37.3,"it":"Geopsychrobacter electrodiphilus","ro":"DSM 16401","rx":310.1,"t":"k"},
{"k":"lab","p":"D","x":242.7,"y":46.5,"it":"Geobacter bremensis","ro":"R1","rx":316.5,"t":"k"},
{"k":"lab","p":"D","x":239.3,"y":55.6,"it":"Geobacter bemidjiensis","ro":"Bem","rx":319.7,"t":"k"},
{"k":"lab","p":"D","x":240,"y":64.7,"it":"Geobacter uraniireducens","ro":"Rf4","rx":328.4,"t":"k"},
{"k":"lab","p":"D","x":248.4,"y":73.8,"it":"Geobacter daltonii","ro":"FRC-32","rx":311.3,"t":"k"},
{"k":"lab","p":"D","x":237.2,"y":82.9,"it":"Geobacter sulfurreducens","ro":"KN400","rx":325.6,"t":"k"},
{"k":"lab","p":"D","x":237.2,"y":92,"it":"Geobacter sulfurreducens","ro":"PCA","rx":325.6,"t":"k"},
{"k":"lab","p":"D","x":245,"y":101.1,"it":"Anaeromyxobacter","ro":"sp. K","rx":310,"t":"k"},
{"k":"lab","p":"D","x":244.3,"y":110.2,"it":"Anaeromyxobacter dehalogenans","ro":"2CP-1","rx":358.5,"t":"k"},
{"k":"lab","p":"D","x":243.3,"y":119.3,"it":"Anaeromyxobacter dehalogenans","ro":"2CP-C","rx":357.5,"t":"k"},
{"k":"lab","p":"D","x":134,"y":134.5,"it":"","ro":"Desulfobacterales sp. C00003060","rx":134,"t":"r"},
{"k":"lab","p":"D","x":134,"y":144.5,"it":"","ro":"Desulfobacterales sp. C00003060","rx":134,"t":"r"},
{"k":"lab","p":"D","x":146.7,"y":154.8,"it":"","ro":"Desulfobacterales sp. S7086CLCb20","rx":146.7,"t":"r"},
{"k":"lab","p":"D","x":141.7,"y":164.2,"it":"","ro":"Desulfobacterales sp. C00003104","rx":141.7,"t":"r"},
{"k":"lab","p":"D","x":141.7,"y":173.7,"it":"","ro":"Desulfobacterales sp. C00003106","rx":141.7,"t":"r"},
{"k":"lab","p":"D","x":145.7,"y":182.9,"it":"Candidatus","ro":"Desulfofervidus auxilii","rx":185.7,"t":"r"},
{"k":"lab","p":"D","x":236.7,"y":192.2,"it":"Thermodesulfatator indicus","ro":"DSM 15286","rx":329.2,"t":"k"},
{"k":"lab","p":"D","x":213.4,"y":201.4,"it":"Thermodesulfatator atlanticus","ro":"DSM 21156","rx":314.3,"t":"k"},
{"k":"lab","p":"D","x":233.4,"y":210.5,"it":"Desulfuromonas acetoxidans","ro":"DSM 684","rx":332.2,"t":"k"},
{"k":"lab","p":"D","x":249.5,"y":219.6,"it":"","ro":"Desulfuromonadales sp. C00003099","rx":249.5,"t":"k"},
{"k":"lab","p":"D","x":249.5,"y":228.7,"it":"","ro":"Desulfuromonadaceae sp. C00003068","rx":249.5,"t":"k"},
{"k":"lab","p":"D","x":211.7,"y":239.7,"it":"","ro":"Desulfuromonadales sp. C00003093","rx":211.7,"t":"k"},
{"k":"lab","p":"D","x":211,"y":249.4,"it":"","ro":"Desulfuromonadales sp. C00003096","rx":211,"t":"k"},
{"k":"lab","p":"D","x":211,"y":258.8,"it":"","ro":"Desulfuromonadales sp. C00003066","rx":211,"t":"k"},
{"k":"lab","p":"D","x":245.7,"y":268.4,"it":"Desulfurivibrio alkaliphilus","ro":"AHT 2","rx":334.05,"t":"k"},
{"k":"lab","p":"D","x":216.7,"y":277.8,"it":"Desulfurivibrio alkaliphilus","ro":"AHT 2","rx":305.05,"t":"k"},
{"k":"lab","p":"D","x":240,"y":286.9,"it":"Desulfuromonas","ro":"sp. TF","rx":296.7,"t":"k"},
{"k":"bar","p":"D","a":119.3,"c":148.3,"b":299.5,"m":133.8,"ly":304,"s":"0.3"},
{"k":"let","p":"D","x":9,"y":25.5,"s":"D"}
]},
"facet": {"field": "p", "type": "nominal", "header": {"title": null, "labels": false, "labelExpr": "''", "labelFontSize": 0, "labelPadding": 0}},
"columns": 2,
"spec": {
 "width": 380,
 "height": 307,
 "layer": [
  {"transform": [{"filter": "datum.k=='br'"}],
   "mark": {"type": "rule", "strokeWidth": 1, "strokeCap": "square"},
   "encoding": {
    "x": {"field": "a", "type": "quantitative", "scale": {"domain": [0, 380], "nice": false, "zero": false}, "axis": null},
    "y": {"field": "b", "type": "quantitative", "scale": {"domain": [0, 307], "nice": false, "zero": false, "reverse": true}, "axis": null},
    "y2": {"field": "d"},
    "color": {"field": "t", "type": "nominal", "scale": {"domain": ["k", "g", "r"], "range": ["#1e1e1e", "#8e8e8e", "#d92b46"]}, "legend": null}
   }},
  {"transform": [{"filter": "datum.k=='br'"}],
   "mark": {"type": "rule", "strokeWidth": 1, "strokeCap": "square"},
   "encoding": {
    "x": {"field": "a", "type": "quantitative", "scale": {"domain": [0, 380], "nice": false, "zero": false}, "axis": null},
    "x2": {"field": "c"},
    "y": {"field": "d", "type": "quantitative", "scale": {"domain": [0, 307], "nice": false, "zero": false, "reverse": true}, "axis": null},
    "color": {"field": "t", "type": "nominal", "legend": null}
   }},
  {"transform": [{"filter": "datum.k=='node'"}],
   "mark": {"type": "point", "filled": true, "opacity": 1, "size": 45, "shape": "circle"},
   "encoding": {
    "x": {"field": "x", "type": "quantitative", "scale": {"domain": [0, 380], "nice": false, "zero": false}, "axis": null},
    "y": {"field": "y", "type": "quantitative", "scale": {"domain": [0, 307], "nice": false, "zero": false, "reverse": true}, "axis": null},
    "color": {"field": "t", "type": "nominal", "legend": null}
   }},
  {"transform": [{"filter": "datum.k=='lab' && datum.it != ''"}],
   "mark": {"type": "text", "align": "left", "baseline": "middle", "fontSize": 7.5, "fontStyle": "italic", "dy": 0.5},
   "encoding": {
    "x": {"field": "x", "type": "quantitative", "scale": {"domain": [0, 380], "nice": false, "zero": false}, "axis": null},
    "y": {"field": "y", "type": "quantitative", "scale": {"domain": [0, 307], "nice": false, "zero": false, "reverse": true}, "axis": null},
    "text": {"field": "it"},
    "color": {"field": "t", "type": "nominal", "legend": null}
   }},
  {"transform": [{"filter": "datum.k=='lab' && datum.ro != ''"}],
   "mark": {"type": "text", "align": "left", "baseline": "middle", "fontSize": 7.5, "dy": 0.5},
   "encoding": {
    "x": {"field": "rx", "type": "quantitative", "scale": {"domain": [0, 380], "nice": false, "zero": false}, "axis": null},
    "y": {"field": "y", "type": "quantitative", "scale": {"domain": [0, 307], "nice": false, "zero": false, "reverse": true}, "axis": null},
    "text": {"field": "ro"},
    "color": {"field": "t", "type": "nominal", "legend": null}
   }},
  {"transform": [{"filter": "datum.k=='bar'"}],
   "mark": {"type": "rule", "strokeWidth": 1, "color": "#333333"},
   "encoding": {
    "x": {"field": "a", "type": "quantitative", "scale": {"domain": [0, 380], "nice": false, "zero": false}, "axis": null},
    "x2": {"field": "c"},
    "y": {"field": "b", "type": "quantitative", "scale": {"domain": [0, 307], "nice": false, "zero": false, "reverse": true}, "axis": null}
   }},
  {"transform": [{"filter": "datum.k=='bar'"}],
   "mark": {"type": "text", "align": "center", "baseline": "middle", "fontSize": 7.5, "color": "#222222"},
   "encoding": {
    "x": {"field": "m", "type": "quantitative", "scale": {"domain": [0, 380], "nice": false, "zero": false}, "axis": null},
    "y": {"field": "ly", "type": "quantitative", "scale": {"domain": [0, 307], "nice": false, "zero": false, "reverse": true}, "axis": null},
    "text": {"field": "s"}
   }},
  {"transform": [{"filter": "datum.k=='let'"}],
   "mark": {"type": "text", "align": "left", "baseline": "alphabetic", "fontSize": 27, "color": "#111111"},
   "encoding": {
    "x": {"field": "x", "type": "quantitative", "scale": {"domain": [0, 380], "nice": false, "zero": false}, "axis": null},
    "y": {"field": "y", "type": "quantitative", "scale": {"domain": [0, 307], "nice": false, "zero": false, "reverse": true}, "axis": null},
    "text": {"field": "s"}
   }}
 ]
}
}
